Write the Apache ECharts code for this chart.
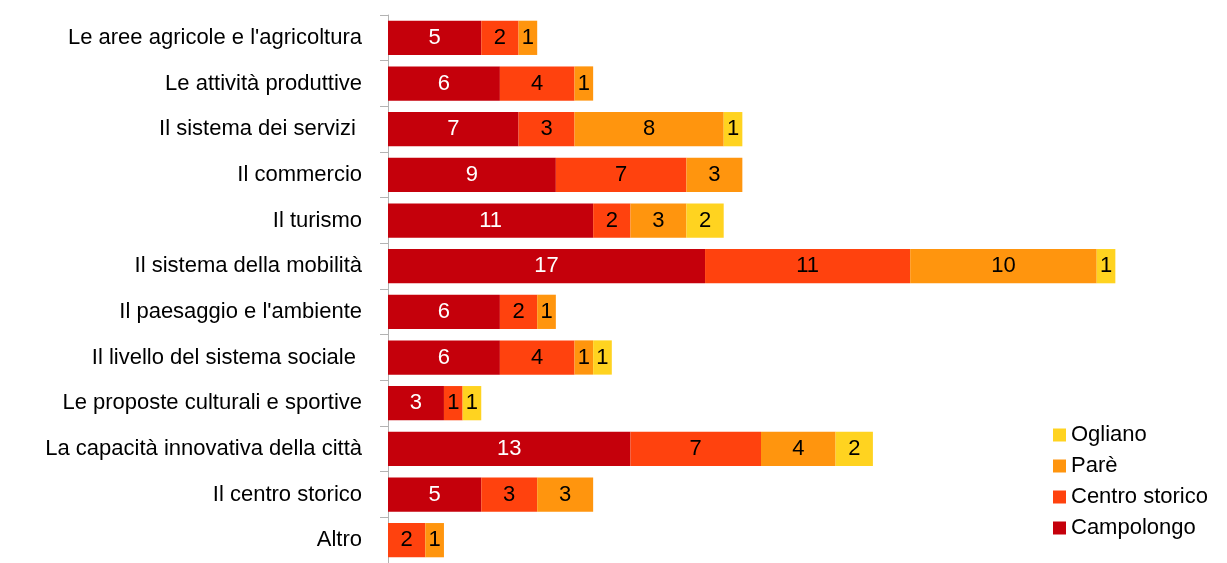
<!DOCTYPE html>
<html><head><meta charset="utf-8">
<script src="https://cdn.jsdelivr.net/npm/echarts@6/dist/echarts.min.js"></script>
<style>html,body{margin:0;padding:0;background:#fff}#c{width:1227px;height:563px}</style>
</head><body><div id="c"></div>
<script>
const categories = [
  "Le aree agricole e l'agricoltura",
  "Le attività produttive",
  "Il sistema dei servizi ",
  "Il commercio",
  "Il turismo",
  "Il sistema della mobilità",
  "Il paesaggio e l'ambiente",
  "Il livello del sistema sociale ",
  "Le proposte culturali e sportive",
  "La capacità innovativa della città",
  "Il centro storico",
  "Altro"
];
const campolongo    = [5, 6, 7, 9, 11, 17, 6, 6, 3, 13, 5, 0];
const centroStorico = [2, 4, 3, 7, 2, 11, 2, 4, 1, 7, 3, 2];
const pare          = [1, 1, 8, 3, 3, 10, 1, 1, 0, 4, 3, 1];
const ogliano       = [0, 0, 1, 0, 2, 1, 0, 1, 1, 2, 0, 0];

const font = '"Liberation Sans", Arial, sans-serif';
function mk(name, data, color, labelColor) {
  return {
    name, type: 'bar', stack: 'total', data,
    barCategoryGap: '25%',
    itemStyle: { color },
    label: {
      show: true, position: 'inside', color: labelColor,
      fontFamily: font, fontSize: 22,
      formatter: p => p.value ? String(p.value) : ''
    },
    emphasis: { disabled: true }
  };
}
const chart = echarts.init(document.getElementById('c'));
chart.setOption({
  animation: false,
  grid: { left: 388, top: 15, width: 746, height: 556 },
  legend: {
    orient: 'vertical', left: 1048, top: 419,
    itemWidth: 13, itemHeight: 13, itemGap: 9,
    icon: 'rect',
    textStyle: { fontFamily: font, fontSize: 22, color: '#000' },
    data: ['Ogliano', 'Parè', 'Centro storico', 'Campolongo']
  },
  xAxis: { type: 'value', min: 0, max: 40, show: false },
  yAxis: {
    type: 'category', inverse: true, data: categories,
    axisLine: { show: true, lineStyle: { color: '#b3b3b3' } },
    axisTick: { show: true, length: 8, lineStyle: { color: '#b3b3b3' } },
    axisLabel: { margin: 26, fontFamily: font, fontSize: 22, color: '#000' }
  },
  series: [
    mk('Campolongo', campolongo, '#C5000B', '#fff'),
    mk('Centro storico', centroStorico, '#FF420E', '#000'),
    mk('Parè', pare, '#FF950E', '#000'),
    mk('Ogliano', ogliano, '#FFD320', '#000')
  ]
});
</script></body></html>
